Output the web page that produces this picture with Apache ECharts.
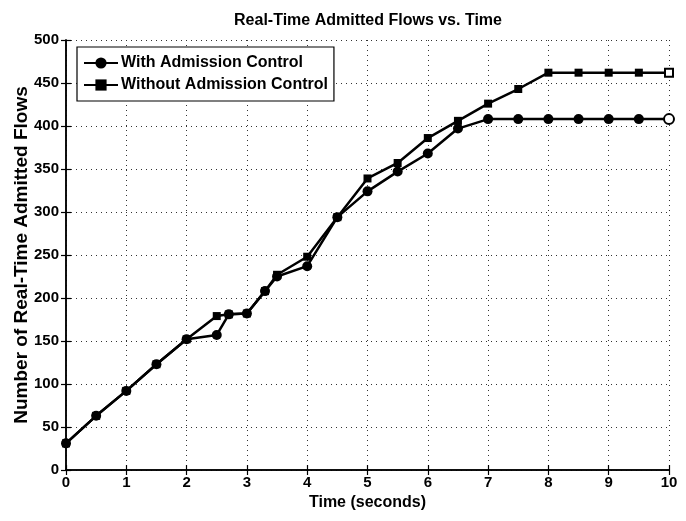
<!DOCTYPE html>
<html>
<head>
<meta charset="utf-8">
<script src="https://cdn.jsdelivr.net/npm/echarts@6/dist/echarts.min.js"></script>
<style>html,body{margin:0;padding:0;background:#fff}#c{width:686px;height:521px}</style>
</head>
<body>
<div id="c"></div>
<script>
var timeValues = [0, 0.5, 1, 1.5, 2, 2.5, 2.7, 3, 3.3, 3.5, 4, 4.5, 5, 5.5, 6, 6.5, 7, 7.5, 8, 8.5, 9, 9.5, 10];
var withAdmission = [31, 63, 92, 123, 152, 157, 181, 182, 208, 225, 237, 294, 324, 347, 368, 397, 408, 408, 408, 408, 408, 408, 408];
var withoutAdmission = [31, 63, 92, 123, 152, 179, 181, 182, 208, 227, 248, 294, 339, 357, 386, 406, 426, 443, 462, 462, 462, 462, 462];
var xTicks = [0, 1, 2, 3, 4, 5, 6, 7, 8, 9, 10];
var yTicks = [0, 50, 100, 150, 200, 250, 300, 350, 400, 450, 500];

var FONT = '"Liberation Sans Narrow", "Liberation Sans", Arial, sans-serif';

function pts(vals) {
  return vals.map(function (v, i) {
    var p = { value: [timeValues[i], v] };
    if (i === vals.length - 1) p.itemStyle = { color: '#fff', borderColor: '#000', borderWidth: 2 };
    return p;
  });
}

var axisCommon = {
  axisLine: { show: true, lineStyle: { color: '#000', width: 1.5 } },
  axisTick: { show: true, inside: true, length: 5, lineStyle: { color: '#000', width: 1.2 } },
  splitLine: { show: false }
};

var chart = echarts.init(document.getElementById('c'), null, { renderer: 'canvas' });
chart.setOption({
  backgroundColor: '#fff',
  animation: false,
  title: {
    text: 'Real-Time Admitted Flows vs. Time',
    left: 363, top: 8, textAlign: 'center',
    textStyle: { fontFamily: FONT, fontWeight: 'bold', fontSize: 16, color: '#000' }
  },
  legend: {
    left: 77, top: 47, orient: 'vertical',
    backgroundColor: '#fff', borderColor: '#000', borderWidth: 1.2,
    padding: [8, 6, 8, 6], itemGap: 6, itemWidth: 34, itemHeight: 14,
    textStyle: { fontFamily: FONT, fontWeight: 'bold', fontSize: 16, color: '#000', padding: [0, 0, 0, -2] },
    data: ['With Admission Control', 'Without Admission Control']
  },
  grid: { left: 66, right: 17, top: 40, bottom: 51, containLabel: false, outerBoundsMode: 'none' },
  xAxis: [
    Object.assign({}, axisCommon, {
      type: 'value', min: 0, max: 10, interval: 1, position: 'bottom',
      axisLabel: { margin: 5, fontFamily: FONT, fontWeight: 'bold', fontSize: 15, color: '#000',
        formatter: function (v) { return xTicks.indexOf(v) >= 0 ? String(v) : ''; } },
      name: 'Time (seconds)', nameLocation: 'middle', nameGap: 25, nameMoveOverlap: false,
      nameTextStyle: { fontFamily: FONT, fontWeight: 'bold', fontSize: 16, color: '#000' },
      splitLine: { show: true, lineStyle: { color: '#333', type: [1, 4], width: 1 } }
    }),
    Object.assign({}, axisCommon, {
      type: 'value', min: 0, max: 10, interval: 1, position: 'top', axisLabel: { show: false }
    })
  ],
  yAxis: [
    Object.assign({}, axisCommon, {
      type: 'value', min: 0, max: 500, interval: 50, position: 'left',
      axisLabel: { margin: 7, fontFamily: FONT, fontWeight: 'bold', fontSize: 15, color: '#000',
        formatter: function (v) { return yTicks.indexOf(v) >= 0 ? String(v) : ''; } },
      name: 'Number of Real-Time Admitted Flows', nameLocation: 'middle', nameGap: 35, nameMoveOverlap: false,
      nameTextStyle: { fontFamily: FONT, fontWeight: 'bold', fontSize: 19, color: '#000' },
      splitLine: { show: true, lineStyle: { color: '#333', type: [1, 4], width: 1 } }
    }),
    Object.assign({}, axisCommon, {
      type: 'value', min: 0, max: 500, interval: 50, position: 'right', axisLabel: { show: false }
    })
  ],
  series: [
    {
      name: 'Without Admission Control', type: 'line', data: pts(withoutAdmission),
      symbol: 'rect', symbolSize: 8, showAllSymbol: true,
      lineStyle: { color: '#000', width: 2.5 }, itemStyle: { color: '#000' }, z: 3
    },
    {
      name: 'With Admission Control', type: 'line', data: pts(withAdmission),
      symbol: 'circle', symbolSize: 10, showAllSymbol: true,
      lineStyle: { color: '#000', width: 2.5 }, itemStyle: { color: '#000' }, z: 4
    }
  ]
});
</script>
</body>
</html>
